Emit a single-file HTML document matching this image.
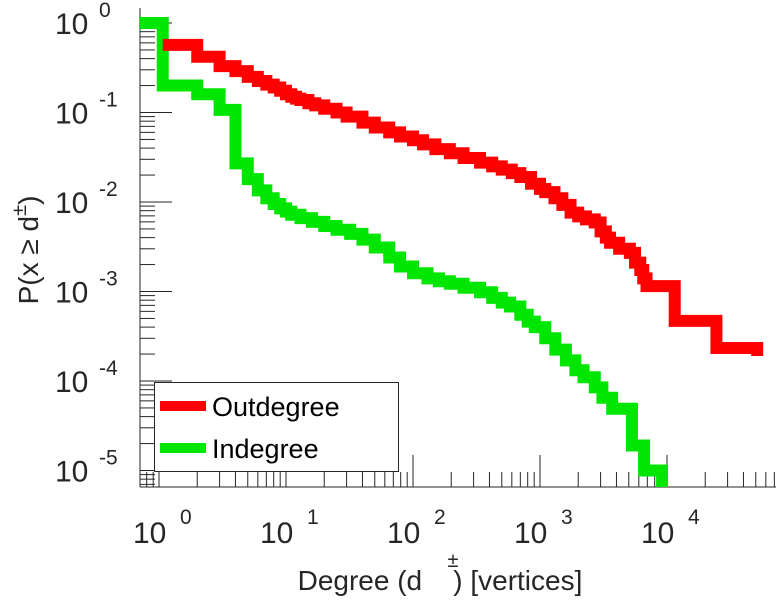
<!DOCTYPE html>
<html><head><meta charset="utf-8"><style>
html,body{margin:0;padding:0;background:#fff;}
svg{display:block;font-family:"Liberation Sans",sans-serif;}
</style></head><body>
<svg id="chart" width="776" height="600" viewBox="0 0 776 600"></svg>
<script>
const redDegrees=[1.07,2,3,4,5,6,7,8,9,10,11,12,13,15,17,20,25,30,40,50,65,79,100,120,150,195,250,337,420,500,600,700,850,1000,1100,1300,1500,1740,2000,2300,2700,3000,3300,3560,4200,5100,5600,6160,6500,6900,11500,24500,51300];
const redProbs=[0.57,0.42,0.33,0.29,0.25,0.225,0.205,0.19,0.175,0.16,0.15,0.143,0.138,0.127,0.12,0.11,0.1,0.09,0.077,0.068,0.06,0.054,0.049,0.044,0.039,0.035,0.031,0.0275,0.025,0.023,0.021,0.019,0.016,0.014,0.0129,0.011,0.0093,0.0076,0.0069,0.0064,0.0059,0.0047,0.004,0.0035,0.003,0.0027,0.0021,0.00174,0.0014,0.00115,0.00047,0.000234,0.00019];
const greenDegrees=[0.7,1.07,2,3,4,5,6,7,8,9,10,11,13,16,20,25,32,40,50,65,79,100,130,160,195,250,337,420,500,580,700,800,910,1100,1320,1600,1900,2200,2700,3100,3700,5300,6600,9150];
const greenProbs=[1,0.2,0.16,0.107,0.027,0.018,0.0135,0.011,0.0095,0.0085,0.0078,0.0072,0.0066,0.006,0.0054,0.0049,0.0044,0.0038,0.0031,0.0024,0.0019,0.0016,0.0014,0.0013,0.00122,0.0011,0.00098,0.00085,0.00075,0.00068,0.00055,0.00046,0.0004,0.0003,0.000224,0.00017,0.000132,0.00011,0.000085,0.000065,0.000049,0.000019,0.00001,0.000004];
const xTickExps=[0,1,2,3,4];
const yTickExps=[0,-1,-2,-3,-4,-5];
const legendLabels=["Outdegree","Indegree"];

const NS="http://www.w3.org/2000/svg";
const svg=document.getElementById("chart");
const X0=159,DX=127,Y0=23,DY=89.5;
const L=140,B=487,T=8,R=776;
function xs(d){return X0+Math.log10(d)*DX;}
function ys(p){return Y0-Math.log10(p)*DY;}
function mk(tag,attrs,parent){const e=document.createElementNS(NS,tag);for(const k in attrs)e.setAttribute(k,attrs[k]);(parent||svg).appendChild(e);return e;}

const defs=mk("defs",{});
const cp=mk("clipPath",{id:"plotclip"},defs);
mk("rect",{x:L,y:0,width:R-L,height:B},cp);

const axes=mk("g",{stroke:"#262626","stroke-width":1,fill:"none"});


mk("line",{x1:L,y1:T,x2:L,y2:B},axes);
mk("line",{x1:L,y1:B,x2:R,y2:B},axes);
for(let e=0;e>=-6;e--){
  const y=ys(Math.pow(10,e));
  if(y<=B)mk("line",{x1:L,y1:y,x2:L+32,y2:y},axes);
  for(let m=2;m<=9;m++){const yy=ys(m*Math.pow(10,e-1));if(yy<=B)mk("line",{x1:L,y1:yy,x2:L+15,y2:yy},axes);}
}
for(let e=-1;e<=4;e++){
  const x=xs(Math.pow(10,e));
  if(x>=L&&x<=R)mk("line",{x1:x,y1:B,x2:x,y2:B-32},axes);
  for(let m=2;m<=9;m++){const xx=xs(m*Math.pow(10,e));if(xx>=L&&xx<=R)mk("line",{x1:xx,y1:B,x2:xx,y2:B-15},axes);}
}

function stairs(ds,ps){let s="M"+xs(ds[0])+","+ys(ps[0]);for(let i=1;i<ds.length;i++){s+=" H"+xs(ds[i])+" V"+ys(ps[i]);}return s;}
const gp=mk("g",{"clip-path":"url(#plotclip)"});
const g1=mk("path",{d:stairs(greenDegrees,greenProbs),stroke:"#00e600","stroke-width":12,fill:"none","stroke-linejoin":"miter"},gp);


const r1=mk("path",{d:stairs(redDegrees,redProbs),stroke:"#ff0000","stroke-width":12,fill:"none","stroke-linejoin":"miter"},gp);



yTickExps.forEach(e=>{
  const y=ys(Math.pow(10,e));
  const t=mk("text",{x:55,y:y+11,"font-size":30,fill:"#262626"});
  
  
  t.textContent="10";
  const s=mk("text",{x:99,y:y-6,"font-size":21,fill:"#262626"});
  
  
  s.textContent=String(e);
});
xTickExps.forEach(e=>{
  const x=xs(Math.pow(10,e));
  const t=mk("text",{x:x-26,y:543,"font-size":30,fill:"#262626"});
  
  
  t.textContent="10";
  const s=mk("text",{x:x+21,y:524,"font-size":21,fill:"#262626"});
  
  
  s.textContent=String(e);
});

const lg=mk("g",{});


mk("rect",{x:154.5,y:382.5,width:244,height:89,fill:"#fff",stroke:"#262626","stroke-width":1},lg);
const cols=["#ff0000","#00e600"];
legendLabels.forEach((lab,i)=>{
  const y=406+i*42;
  const ln=mk("line",{x1:160,y1:y,x2:206,y2:y,stroke:cols[i],"stroke-width":10},lg);
  
  
  const t=mk("text",{x:212,y:y+10,"font-size":27,fill:"#000"},lg);
  
  
  t.textContent=lab;
});

const xt=mk("text",{x:440,y:590,"font-size":28,fill:"#262626","text-anchor":"middle"});


xt.textContent="Degree (d \u00a0\u00a0\u00a0) [vertices]";
const xpm=mk("text",{x:453,y:567,"font-size":20,fill:"#262626","text-anchor":"middle"});


xpm.textContent="\u00b1";
const yt=mk("text",{x:0,y:0,"font-size":28,fill:"#262626","text-anchor":"middle",transform:"translate(38,250) rotate(-90)"});


yt.innerHTML='P(x \u2265 d<tspan font-size="20" dy="-12">\u00b1</tspan><tspan dy="12">)</tspan>';
</script>
</body></html>
